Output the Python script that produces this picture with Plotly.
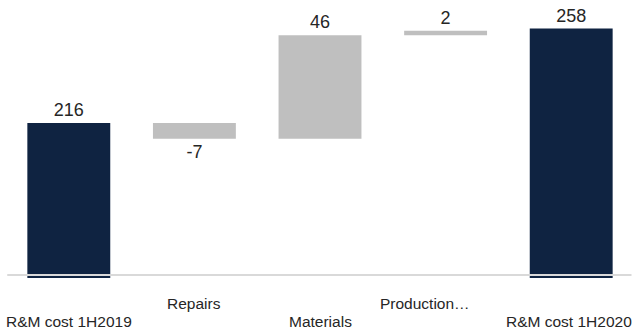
import plotly.graph_objects as go

# R&M cost bridge, 1H2019 -> 1H2020
categories = ["R&M cost 1H2019", "Repairs", "Materials", "Production…", "R&M cost 1H2020"]
values = [216, -7, 46, 2, 258]
measures = ["absolute", "relative", "relative", "relative", "absolute"]
value_labels = ["216", "-7", "46", "2", "258"]

NAVY = "#0F2341"
GREY = "#BFBFBF"
TEXT = "#262626"

fig = go.Figure(
    go.Waterfall(
        x=categories,
        y=values,
        measure=measures,
        text=value_labels,
        textinfo="text",
        textposition="outside",
        textfont=dict(family="Arial, Liberation Sans, sans-serif", size=18, color=TEXT),
        totals=dict(marker=dict(color=NAVY)),
        increasing=dict(marker=dict(color=GREY)),
        decreasing=dict(marker=dict(color=GREY)),
        connector=dict(visible=False),
        width=0.66,
        cliponaxis=True,
    )
)

# staggered category labels under the axis (truncated label sits a bit left)
label_rows = [1, 0, 1, 0, 1]
label_xshift = [0, 0, 0, -21, -2]
for cat, row, dx in zip(categories, label_rows, label_xshift):
    fig.add_annotation(
        x=cat, xref="x", y=0, yref="paper",
        text=cat, showarrow=False,
        yanchor="middle", xanchor="center",
        xshift=dx, yshift=-(25 + 18 * row),
        font=dict(family="Arial, Liberation Sans, sans-serif", size=15.5, color=TEXT),
    )

# baseline
fig.add_shape(
    type="line", xref="paper", yref="y",
    x0=0.002, x1=0.996, y0=148.4, y1=148.4,
    line=dict(color="#D9D9D9", width=2), layer="above",
)

fig.update_layout(
    width=636, height=331,
    margin=dict(l=6, r=2, t=2, b=53),
    paper_bgcolor="white", plot_bgcolor="white",
    showlegend=False,
    xaxis=dict(showticklabels=False, showgrid=False, zeroline=False, showline=False,
               range=[-0.5, 4.5]),
    yaxis=dict(visible=False, range=[147.1, 269.8], showgrid=False, zeroline=False),
)

fig.write_html("out.html")
